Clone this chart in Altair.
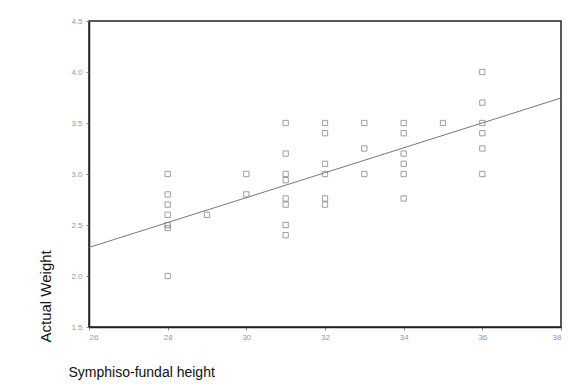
import altair as alt
import pandas as pd

# Scatter data: symphiso-fundal height vs actual weight
sfh = [28, 28, 28, 28, 28, 28, 28,
       29,
       30, 30,
       31, 31, 31, 31, 31, 31, 31, 31,
       32, 32, 32, 32, 32, 32,
       33, 33, 33,
       34, 34, 34, 34, 34, 34,
       35,
       36, 36, 36, 36, 36, 36]
weight = [3.0, 2.8, 2.7, 2.6, 2.5, 2.47, 2.0,
          2.6,
          3.0, 2.8,
          3.5, 3.2, 3.0, 2.94, 2.76, 2.7, 2.5, 2.4,
          3.5, 3.4, 3.1, 3.0, 2.76, 2.7,
          3.5, 3.25, 3.0,
          3.5, 3.4, 3.2, 3.1, 3.0, 2.76,
          3.5,
          4.0, 3.7, 3.5, 3.4, 3.25, 3.0]

# Fitted line endpoints
line_x = [26, 38]
line_y = [2.28, 3.745]

x_ticks = [26, 28, 30, 32, 34, 36, 38]
y_ticks = [1.5, 2.0, 2.5, 3.0, 3.5, 4.0, 4.5]

pts = pd.DataFrame({"x": sfh, "y": weight})
ln = pd.DataFrame({"x": line_x, "y": line_y})

xscale = alt.Scale(domain=[26, 38], nice=False, zero=False)
yscale = alt.Scale(domain=[1.5, 4.5], nice=False, zero=False)

xaxis = alt.Axis(values=x_ticks, format="d", title="Symphiso-fundal height",
                 grid=False, domainColor="#222", domainWidth=1.5,
                 tickColor="#888", tickSize=3, labelColor="#999", labelFontSize=8,
                 labelPadding=3, titleFontSize=14, titleFontWeight="normal",
                 titleColor="#111", titleX=-21, titleY=45, titleAlign="left",
                 titleBaseline="middle", titleAnchor="start")
yaxis = alt.Axis(values=y_ticks, format=".1f", title="Actual Weight",
                 grid=False, domainColor="#222", domainWidth=1.5,
                 tickColor="#888", tickSize=3, labelColor="#999", labelFontSize=8,
                 labelPadding=4, titleFontSize=15, titleFontWeight="normal",
                 titleColor="#111", titleAngle=-90, titleX=-44, titleY=321,
                 titleAlign="left", titleBaseline="middle", titleAnchor="start")

points = alt.Chart(pts).mark_point(shape="square", size=28, filled=False,
                                   color="#666", strokeWidth=0.9).encode(
    x=alt.X("x:Q", scale=xscale, axis=xaxis),
    y=alt.Y("y:Q", scale=yscale, axis=yaxis),
)

line = alt.Chart(ln).mark_line(color="#777", strokeWidth=1).encode(
    x=alt.X("x:Q", scale=xscale),
    y=alt.Y("y:Q", scale=yscale),
)

chart = alt.layer(points, line).properties(
    width=472, height=306,
    autosize=alt.AutoSizeParams(type="none"),
    padding={"left": 89, "top": 21, "right": 24, "bottom": 57},
    background="white",
).configure_view(stroke="#222", strokeWidth=1.5).configure_axis(
    labelFont="Liberation Sans", titleFont="Liberation Sans"
)

chart.save("out.html", embed_options={"renderer": "svg", "actions": False})
